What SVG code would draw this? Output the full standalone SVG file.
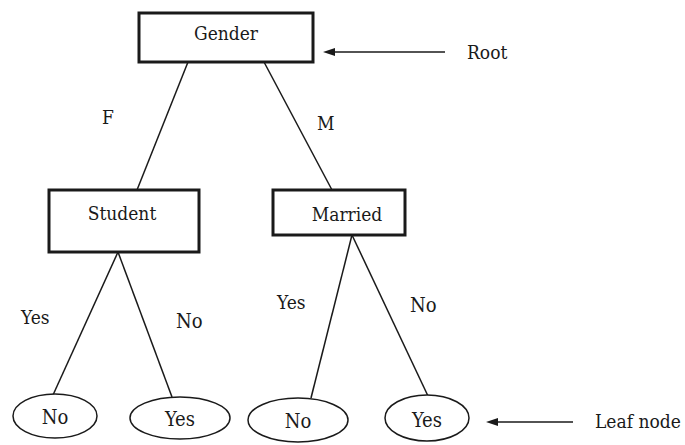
<svg xmlns="http://www.w3.org/2000/svg" width="685" height="445" viewBox="0 0 685 445">
  <style>
    .box { fill: #ffffff; stroke: #1a1a1a; stroke-width: 3; }
    .leaf { fill: #ffffff; stroke: #1a1a1a; stroke-width: 1.5; }
    .edge { stroke: #1a1a1a; stroke-width: 1.5; fill: none; }
    .ptr { stroke: #1a1a1a; stroke-width: 1.6; fill: none; marker-end: url(#head); }
    text { font-family: "DejaVu Serif Condensed", "DejaVu Serif", serif; font-stretch: condensed; font-size: 19px; fill: #1a1a1a; }
    .big { font-size: 20px; }
    .mid { text-anchor: middle; }
  </style>
  <defs>
    <marker id="head" viewBox="0 0 12 8" refX="1" refY="4" markerWidth="12" markerHeight="8" markerUnits="userSpaceOnUse" orient="auto">
      <path d="M12,4 L0,0 L0,8 Z" fill="#1a1a1a"/>
    </marker>
  </defs>
  <rect width="685" height="445" fill="#ffffff"/>

  <!-- connectors and branch labels -->
  <g id="connectors">
    <line class="edge" x1="188" y1="62" x2="137" y2="190"/>
    <line class="edge" x1="264" y1="62" x2="332" y2="190"/>
    <line class="edge" x1="118" y1="252" x2="53" y2="395"/>
    <line class="edge" x1="118" y1="252" x2="172" y2="397"/>
    <line class="edge" x1="352" y1="235" x2="311" y2="398"/>
    <line class="edge" x1="352" y1="235" x2="428" y2="396"/>
    <text x="102" y="124">F</text>
    <text x="317" y="130">M</text>
    <text x="21" y="324">Yes</text>
    <text x="176" y="328" class="big">No</text>
    <text x="277" y="309">Yes</text>
    <text x="410" y="312" class="big">No</text>
  </g>

  <g id="gender">
    <rect class="box" x="139" y="13" width="174" height="49"/>
    <text class="mid" x="226" y="40">Gender</text>
  </g>
  <g id="student">
    <rect class="box" x="49" y="190" width="150" height="62"/>
    <text class="mid" x="122" y="220">Student</text>
  </g>
  <g id="married">
    <rect class="box" x="273" y="190" width="132" height="45"/>
    <text class="mid" x="347" y="221">Married</text>
  </g>

  <g id="leaf-no-1">
    <ellipse class="leaf" cx="55" cy="416" rx="42" ry="22"/>
    <text class="mid big" x="55" y="424">No</text>
  </g>
  <g id="leaf-yes-1">
    <ellipse class="leaf" cx="180" cy="418" rx="50" ry="21"/>
    <text class="mid big" x="180" y="426">Yes</text>
  </g>
  <g id="leaf-no-2">
    <ellipse class="leaf" cx="298" cy="420" rx="50" ry="22"/>
    <text class="mid big" x="298" y="428">No</text>
  </g>
  <g id="leaf-yes-2">
    <ellipse class="leaf" cx="427" cy="418" rx="42" ry="23"/>
    <text class="mid big" x="427" y="427">Yes</text>
  </g>

  <!-- annotation pointers -->
  <g id="root-note">
    <line class="ptr" x1="445" y1="52" x2="334" y2="52"/>
    <text x="467" y="59">Root</text>
  </g>
  <g id="leaf-note">
    <line class="ptr" x1="573" y1="422" x2="497" y2="422"/>
    <text x="595" y="428" font-size="16">Leaf node</text>
  </g>
</svg>
